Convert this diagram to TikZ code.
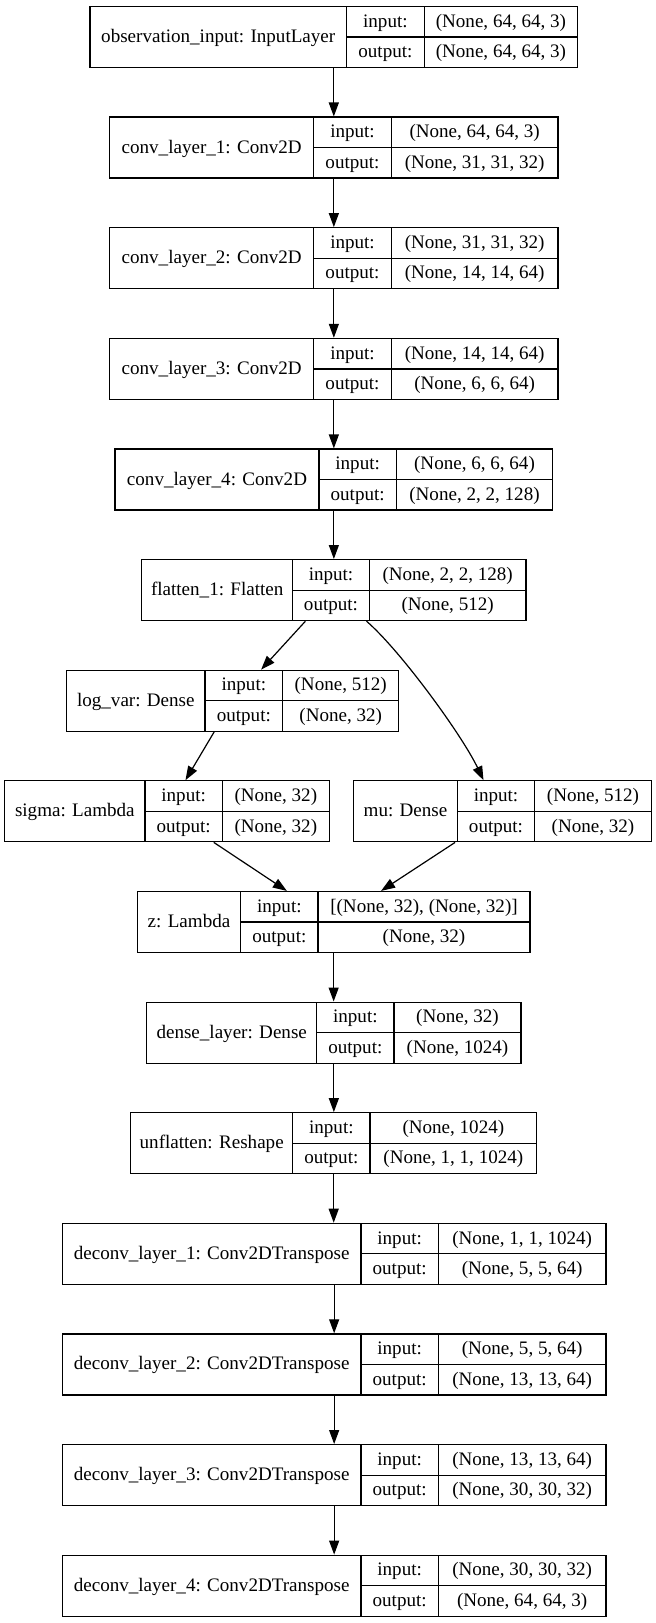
\documentclass[tikz,border=0pt]{standalone}
\usepackage{fontspec}
\setmainfont{Liberation Serif}
\usetikzlibrary{arrows.meta}

% one unit = one pixel at 96 dpi, y grows downwards
\tikzset{
  layer/.style={draw=black, line width=0.9pt, inner sep=0pt, minimum height=45.75pt},
  cell/.style={anchor=base, inner sep=0pt, font=\fontsize{14.3pt}{16pt}\selectfont},
  rule/.style={draw=black, line width=0.9pt},
  arr/.style={draw=black, line width=0.9pt, -{Triangle[length=10.5pt,width=7.5pt]}},
}

% #1 name, #2 top, #3 left, #4 first divider, #5 second divider, #6 right,
% #7 layer title, #8 input shape, #9 output shape
\newcommand{\layerbox}[9]{%
  \node[layer, minimum width={(#6-(#3))*0.75pt}] (#1) at ({(#3+#6)/2},{#2+30.5}) {};
  \draw[rule] (#4,{#2}) -- (#4,{#2+61})
              (#5,{#2}) -- (#5,{#2+61})
              (#4,{#2+30.5}) -- (#6,{#2+30.5});
  \node[cell] at ({(#3+#4)/2},{#2+36}) {#7};
  \node[cell] at ({(#4+#5)/2},{#2+20.75}) {input:};
  \node[cell] at ({(#4+#5)/2},{#2+51.25}) {output:};
  \node[cell] at ({(#5+#6)/2},{#2+20.75}) {#8};
  \node[cell] at ({(#5+#6)/2},{#2+51.25}) {#9};
}

\begin{document}
\begin{tikzpicture}[x=0.75pt, y=-0.75pt]
  \fill[white] (0,0) rectangle (656,1623);
  \useasboundingbox (0,0) rectangle (656,1623);

  \layerbox{obs}{6.5}{90}{346.5}{424.3}{577.6}{observation\_input: InputLayer}{(None, 64, 64, 3)}{(None, 64, 64, 3)}
  \layerbox{c1}{117.1}{109.7}{313.7}{391.3}{558}{conv\_layer\_1: Conv2D}{(None, 64, 64, 3)}{(None, 31, 31, 32)}
  \layerbox{c2}{227.7}{109.7}{313.7}{391.3}{558}{conv\_layer\_2: Conv2D}{(None, 31, 31, 32)}{(None, 14, 14, 64)}
  \layerbox{c3}{338.4}{109.7}{313.7}{391.3}{558}{conv\_layer\_3: Conv2D}{(None, 14, 14, 64)}{(None, 6, 6, 64)}
  \layerbox{c4}{449.0}{115}{319}{396.3}{552.7}{conv\_layer\_4: Conv2D}{(None, 6, 6, 64)}{(None, 2, 2, 128)}
  \layerbox{flat}{559.6}{141.7}{292.7}{369.3}{526}{flatten\_1: Flatten}{(None, 2, 2, 128)}{(None, 512)}
  \layerbox{logvar}{670.2}{66.7}{205}{282.7}{398.7}{log\_var: Dense}{(None, 512)}{(None, 32)}
  \layerbox{sigma}{780.8}{4.7}{145}{222.3}{329.3}{sigma: Lambda}{(None, 32)}{(None, 32)}
  \layerbox{mu}{780.8}{353.3}{457.7}{534.3}{651.7}{mu: Dense}{(None, 512)}{(None, 32)}
  \layerbox{z}{891.5}{137.3}{240.7}{318}{530}{z: Lambda}{[(None, 32), (None, 32)]}{(None, 32)}
  \layerbox{dense}{1002.1}{146.7}{316.7}{394}{521}{dense\_layer: Dense}{(None, 32)}{(None, 1024)}
  \layerbox{unflat}{1112.7}{130.7}{292.7}{370}{536.7}{unflatten: Reshape}{(None, 1024)}{(None, 1, 1, 1024)}
  \layerbox{d1}{1223.3}{62.3}{361}{438.3}{606}{deconv\_layer\_1: Conv2DTranspose}{(None, 1, 1, 1024)}{(None, 5, 5, 64)}
  \layerbox{d2}{1333.9}{62.3}{361}{438.3}{606}{deconv\_layer\_2: Conv2DTranspose}{(None, 5, 5, 64)}{(None, 13, 13, 64)}
  \layerbox{d3}{1444.6}{62.3}{361}{438.3}{606}{deconv\_layer\_3: Conv2DTranspose}{(None, 13, 13, 64)}{(None, 30, 30, 32)}
  \layerbox{d4}{1555.2}{62.3}{361}{438.3}{606}{deconv\_layer\_4: Conv2DTranspose}{(None, 30, 30, 32)}{(None, 64, 64, 3)}

  % straight chain of the encoder
  \draw[arr] (obs.south) -- (obs.south |- c1.north);
  \draw[arr] (c1.south) -- (c1.south |- c2.north);
  \draw[arr] (c2.south) -- (c2.south |- c3.north);
  \draw[arr] (c3.south) -- (c3.south |- c4.north);
  \draw[arr] (c4.south) -- (c4.south |- flat.north);

  % the two branches and the sampling layer
  \draw[arr] (flat) -- (logvar);
  \draw[arr] ([xshift=24.5pt]flat.south) .. controls (400,650) and (462,735) .. ([xshift=-14.25pt]mu.north);
  \draw[arr] (logvar) -- (sigma);
  \draw[arr] (sigma) -- (z);
  \draw[arr] (mu) -- (z);

  % decoder chain
  \draw[arr] (z.south) -- (z.south |- dense.north);
  \draw[arr] (dense.south) -- (dense.south |- unflat.north);
  \draw[arr] (unflat.south) -- (unflat.south |- d1.north);
  \draw[arr] (d1.south) -- (d1.south |- d2.north);
  \draw[arr] (d2.south) -- (d2.south |- d3.north);
  \draw[arr] (d3.south) -- (d3.south |- d4.north);
\end{tikzpicture}
\end{document}
